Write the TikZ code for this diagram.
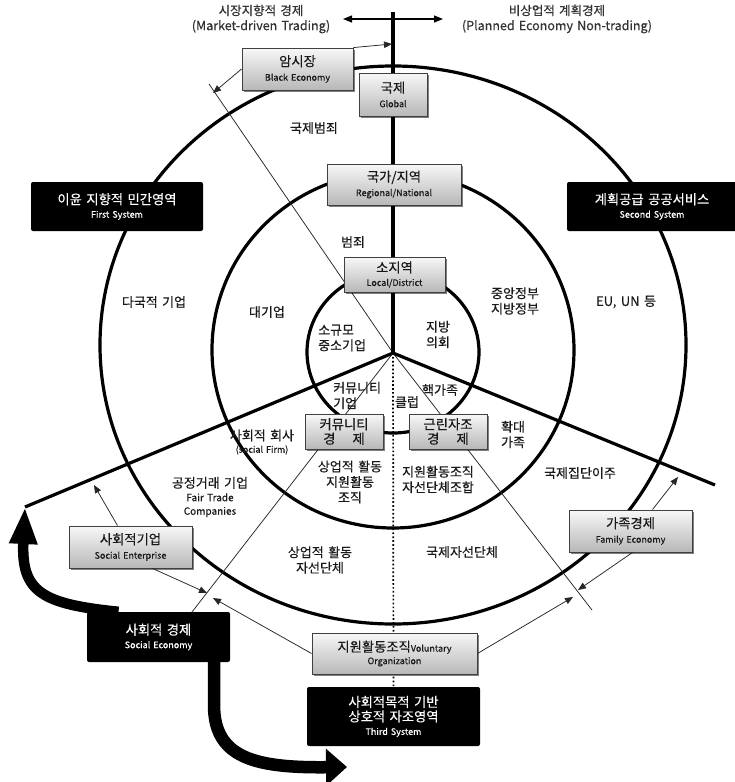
\documentclass[tikz,border=0pt]{standalone}
\usepackage{fontspec}
\setmainfont{Noto Sans CJK KR}[FakeBold=0.35, WordSpace=1.5]
\usetikzlibrary{arrows.meta,shadows}
\pgfdeclarelayer{bg}
\pgfsetlayers{bg,main}
\newcommand\kT{\fontsize{13.3}{15.5}\selectfont}
\newcommand\kS{\fontsize{9}{10}\selectfont}
\newcommand\kL{\fontsize{13}{15.5}\selectfont}
\begin{document}
\begin{tikzpicture}[x=1pt,y=-1pt,
  thk/.style={line width=3.2pt},
  thn/.style={line width=0.75pt, black!85},
  tarr/.style={thn,-{Triangle[length=8pt,width=6.5pt]}},
  dotl/.style={line width=1.7pt, dash pattern=on 1.7pt off 2.2pt},
  gbox/.style={draw=black!75, line width=0.9pt, top color=black!3, bottom color=black!28,
     inner sep=0pt, align=center, font=\kT, text=black!90,
     drop shadow={shadow xshift=1.6pt, shadow yshift=-1.6pt, opacity=0.5, fill=black}},
  blk/.style={fill=black, rounded corners=2pt, text=white, inner sep=0pt, align=center, font=\kT},
  lbl/.style={inner sep=0pt, align=center, font=\kL, text=black!90},
  big/.style={line width=#1, black}
]
\useasboundingbox (0,0) rectangle (735,782);

% ---------- top texts ----------
\node[lbl, font=\fontsize{12.5}{15}\selectfont, text=black!80] (t1) at (261,19) {시장지향적 경제\\(Market-driven Trading)};
\node[lbl, font=\fontsize{12.5}{15}\selectfont, text=black!80] (t2) at (557,19) {비상업적 계획경제\\(Planned Economy Non-trading)};

% ---------- gray boxes ----------
\node[gbox, minimum width=111pt, minimum height=42pt] (bl) at (297.5,69) {암시장\\[-1pt]{\kS Black Economy}};
\node[gbox, minimum width=68pt, minimum height=43pt] (gl) at (393,94.5) {국제\\[-1pt]{\kS Global}};
\node[gbox, minimum width=134pt, minimum height=41pt] (rn) at (394,184.5) {국가/지역\\[-1pt]{\kS Regional/National}};
\node[gbox, minimum width=101pt, minimum height=35pt] (ld) at (394.5,274.5) {소지역\\[-2pt]{\kS Local/District}};
\node[gbox, minimum width=78pt, minimum height=35pt] (ce) at (344,431.5) {커뮤니티\\[-1pt]경\hspace{17pt}제};
\node[gbox, minimum width=78pt, minimum height=35pt] (ne) at (448,431.5) {근린자조\\[-1pt]경\hspace{17pt}제};
\node[gbox, minimum width=123pt, minimum height=42pt] (se) at (130.5,547) {사회적기업\\[-1pt]{\kS Social Enterprise}};
\node[gbox, minimum width=123pt, minimum height=42pt] (fe) at (630.5,531) {가족경제\\[-1pt]{\kS Family Economy}};
\node[gbox, minimum width=165pt, minimum height=41pt] (vo) at (394.5,653.5) {지원활동조직{\kS Voluntary}\\[-3pt]{\kS Organization}};

% ---------- black boxes ----------
\node[blk, minimum width=172pt, minimum height=49pt] (fs) at (117,206.5) {이윤 지향적 민간영역\\[-2pt]{\kS First System}};
\node[blk, minimum width=170pt, minimum height=49pt] (ss) at (652,206.5) {계획공급 공공서비스\\[-2pt]{\kS Second System}};
\node[blk, minimum width=143pt, minimum height=50pt] (sc) at (158.5,637) {사회적 경제\\[-2pt]{\kS Social Economy}};
\node[blk, minimum width=173pt, minimum height=59pt] (ts) at (393.5,716.5) {사회적목적 기반\\[-1pt]상호적 자조영역\\[-2pt]{\kS Third System}};

% ---------- free points ----------
\coordinate (O) at (393,353);
\coordinate (vtop) at (393,12);
\coordinate (yl) at (25,507);
\coordinate (yr) at (715,485);
\coordinate (ha) at (343,19);
\coordinate (hb) at (443,19);
\coordinate (tl1) at (209,84);
\coordinate (tl2) at (192,612);
\coordinate (tl3) at (592,610);
\coordinate (a1) at (392,44);
\coordinate (a2) at (213,93);
\coordinate (a3) at (94,485);
\coordinate (a4) at (207,593);
\coordinate (a5) at (213,598);
\coordinate (a6) at (678,477);
\coordinate (a7) at (578,590);
\coordinate (a8) at (573,597);
\coordinate (btip) at (347,767);

\begin{pgfonlayer}{bg}
  \fill[white] (0,0) rectangle (735,782);
  % circles
  \draw[thk] (393,345) ellipse [x radius=293, y radius=279];
  \draw[thk] (393,350) ellipse [x radius=181, y radius=178];
  \draw[thk] (393,352) ellipse [x radius=86, y radius=81];
  % thin radial lines
  \draw[thn] (O) -- (tl1);
  \draw[thn] (O) -- (tl2);
  \draw[thn] (O) -- (tl3);
  % dotted line down
  \draw[dotl] (O) -- (ts.north);
  % thick axes
  \draw[thk] (vtop) -- (O);
  \draw[thk, line join=round] (yl) -- (O) -- (yr);
  % big arrow up-left
  \draw[big=10.5pt, -{Triangle[length=37pt,width=26pt]}] ([xshift=-40pt]sc.north) .. controls (42,604) and (21,592) .. (yl);
\end{pgfonlayer}

% big arrow down-right (starts inside the box)
\draw[big=12.5pt, -{Triangle[length=21pt,width=36pt]}] ([xshift=-16pt]sc.east) -- (214,705) .. controls (214,758) and (255,768) .. (btip);

% top double arrow
\draw[line width=1.2pt, {Triangle[length=9pt,width=7pt]}-{Triangle[length=9pt,width=7pt]}] (ha) -- (hb);

% thin arrows
\draw[tarr] (bl.north east) -- (a1);
\draw[tarr] (bl.west) -- (a2);
\draw[tarr] ([xshift=-13pt]se.north) -- (a3);
\draw[tarr] ([xshift=22pt]se.south) -- (a4);
\draw[tarr] (vo.west) -- (a5);
\draw[tarr] ([xshift=22pt]fe.north) -- (a6);
\draw[tarr] ([xshift=2pt]fe.south) -- (a7);
\draw[tarr] (vo.east) -- (a8);

% ---------- region labels ----------
\node[lbl] (l1) at (314,128) {국제범죄};
\node[lbl] (l2) at (353,242) {범죄};
\node[lbl] (l3) at (154,302) {다국적 기업};
\node[lbl] (l4) at (267,312) {대기업};
\node[lbl] (l5) at (515,301) {중앙정부\\지방정부};
\node[lbl] (l6) at (626,302) {EU, UN 등};
\node[lbl, align=left, anchor=west] (l7) at (318,338) {소규모\\중소기업};
\node[lbl] (l8) at (438,334.5) {지방\\의회};
\node[lbl, align=left, anchor=west] (l9) at (333,395.5) {커뮤니티\\기업};
\node[lbl] (l10) at (407,402) {클럽};
\node[lbl] (l11) at (440,390) {핵가족};
\node[lbl] (l12) at (513,434.5) {확대\\가족};
\node[lbl] (l13) at (262,442) {사회적 회사\\[-3pt]{\fontsize{9}{10}\selectfont (social Firm)}};
\node[lbl] (l14) at (350,482) {상업적 활동\\지원활동\\조직};
\node[lbl] (l15) at (438,479.5) {지원활동조직\\자선단체조합};
\node[lbl] (l16) at (580,473) {국제집단이주};
\node[lbl] (l17) at (210,497) {공정거래 기업\\[-2pt]{\fontsize{10}{13}\selectfont Fair Trade}\\[-2pt]{\fontsize{10}{13}\selectfont Companies}};
\node[lbl] (l18) at (320,560) {상업적 활동\\자선단체};
\node[lbl] (l19) at (462,552) {국제자선단체};
\end{tikzpicture}
\end{document}
